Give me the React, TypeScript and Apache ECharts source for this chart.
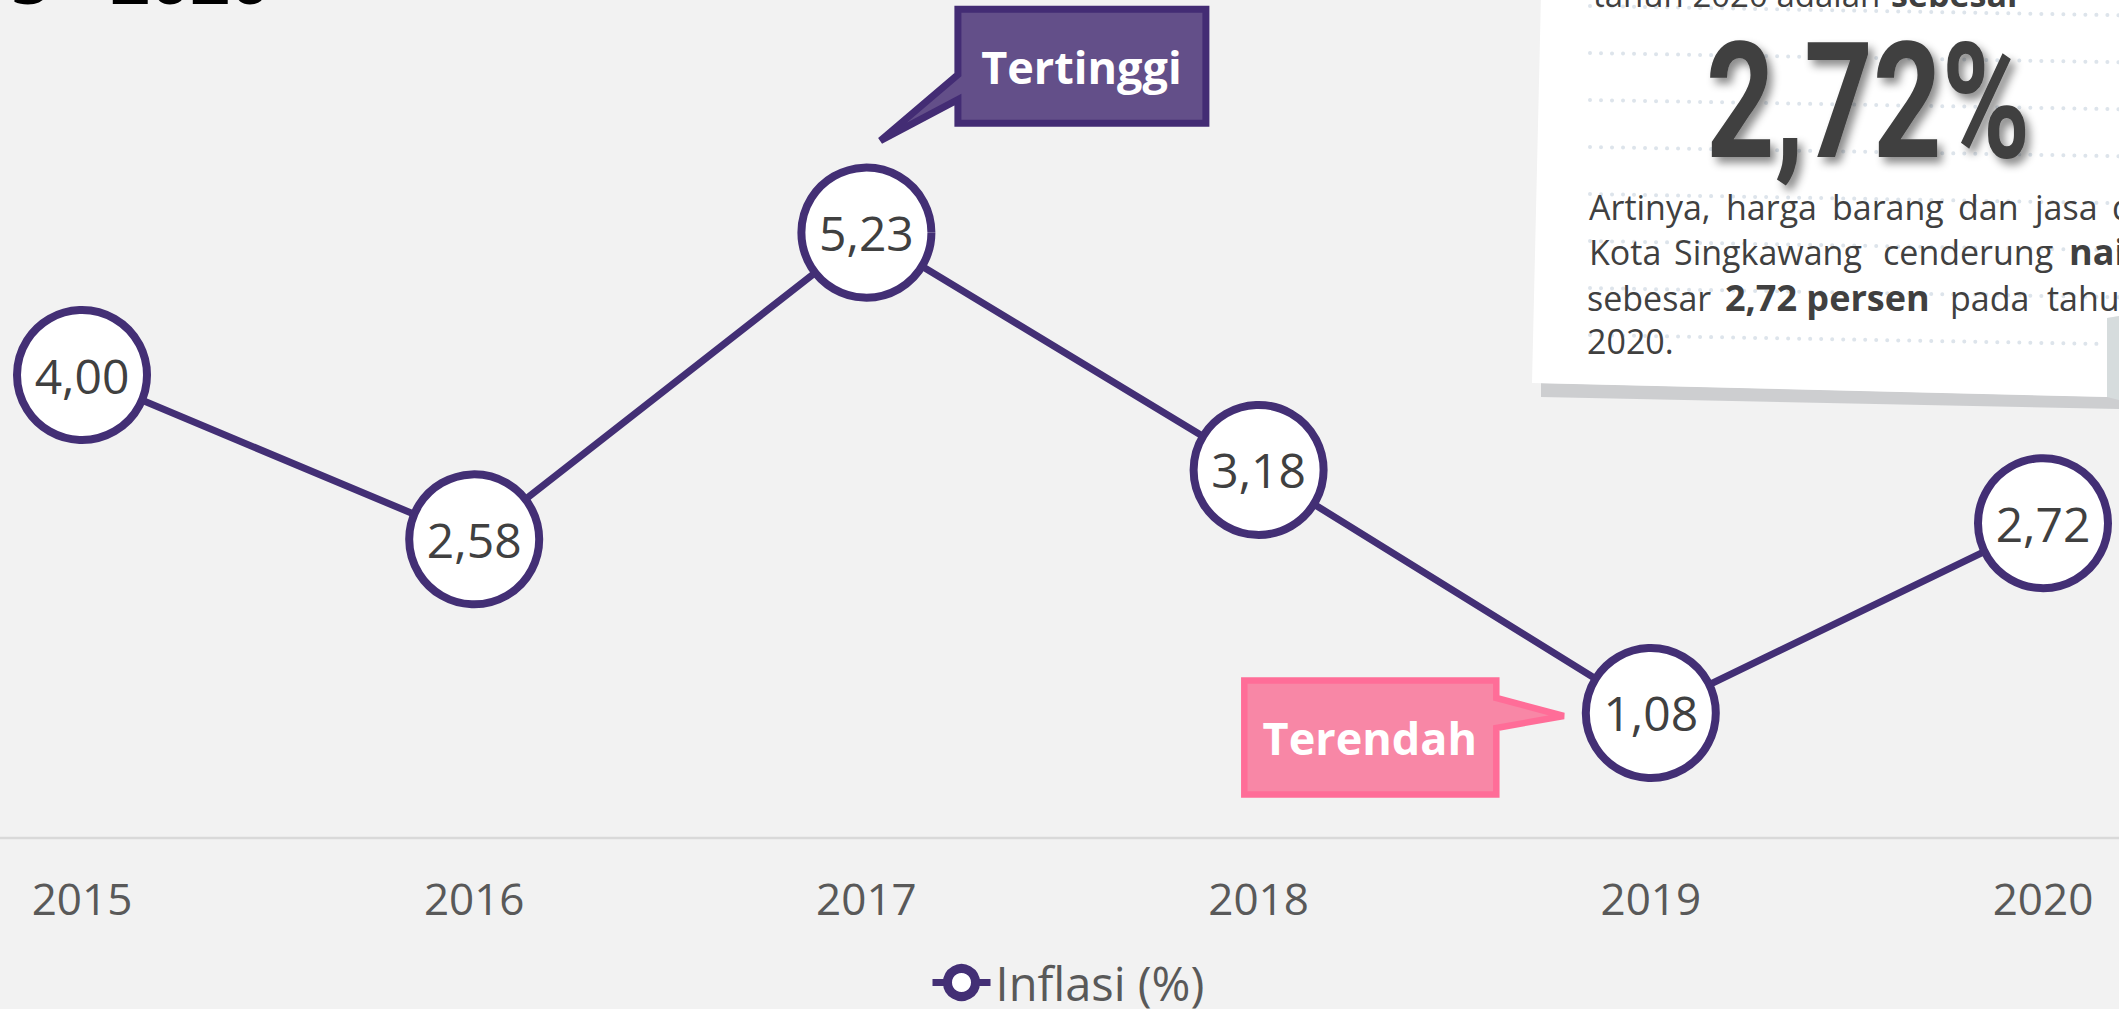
import React, { useEffect, useRef } from 'react';
import * as echarts from 'echarts';

// ---------- data ----------
const years = ['2015', '2016', '2017', '2018', '2019', '2020'];
const inflasi = [4.0, 2.58, 5.23, 3.18, 1.08, 2.72];
const seriesName = 'Inflasi (%)';
const titleText = '2015 - 2020';
const headline = '2,72%';
const topLineNormal = 'tahun 2020 adalah';
const topLineBold = 'sebesar';
const highLabel = 'Tertinggi';
const lowLabel = 'Terendah';
const paragraphLines: [string, boolean][][] = [
  [['Artinya,', false], ['harga', false], ['barang', false], ['dan', false], ['jasa', false], ['di', false]],
  [['Kota', false], ['Singkawang', false], ['cenderung', false], ['naik', true]],
  [['sebesar', false], ['2,72 persen', true], ['pada', false], ['tahun', false]],
  [['2020.', false]],
];

// ---------- layout (positions only) ----------
const wordX = [
  [1589, 1726, 1832, 1958, 2035, 2112],
  [1589, 1674, 1883, 2069],
  [1587, 1725, 1950, 2047],
  [1587],
];
const lineBaseline = [220, 265, 311, 354];

const PURPLE = '#432f75';
const TEXT = '#404040';
const fmt = (v: number) => v.toFixed(2).replace('.', ',');
const OS_MID = 0.388; // Open Sans central baseline offset (em)

export default function App() {
  const ref = useRef<HTMLDivElement>(null);
  useEffect(() => {
    const chart = echarts.init(ref.current!, null, { renderer: 'svg', width: 2119, height: 1009 });
    chart.setOption({
      animation: false,
      backgroundColor: '#f2f2f2',
      grid: { left: 82, right: 76, top: 143.5, bottom: 171 },
      xAxis: {
        type: 'category',
        data: years,
        boundaryGap: false,
        axisLine: { show: false },
        axisTick: { show: false },
        splitLine: { show: false },
        axisLabel: { color: '#595959', fontSize: 44, fontFamily: 'Open Sans', margin: 38 },
      },
      yAxis: { type: 'value', min: 0, max: 6, show: false },
      legend: {
        data: [seriesName],
        left: 929,
        top: 959,
        padding: 0,
        itemWidth: 58,
        itemHeight: 35,
        textStyle: { color: '#595959', fontSize: 47, fontFamily: 'Open Sans' },
        itemStyle: { color: '#ffffff', borderColor: PURPLE, borderWidth: 9 },
        lineStyle: { color: PURPLE, width: 7 },
      },
      series: [
        {
          name: seriesName,
          type: 'line',
          data: inflasi,
          symbol: 'circle',
          symbolSize: 130,
          lineStyle: { color: PURPLE, width: 7 },
          itemStyle: { color: '#ffffff', borderColor: PURPLE, borderWidth: 8 },
          label: {
            show: true,
            position: 'inside',
            formatter: (p: any) => fmt(p.value),
            color: TEXT,
            fontSize: 48,
            fontFamily: 'Open Sans',
          },
          z: 3,
        },
      ],
    });

    const axisY = chart.convertToPixel({ yAxisIndex: 0 }, 0) as number;
    const maxIdx = inflasi.indexOf(Math.max(...inflasi));
    const minIdx = inflasi.indexOf(Math.min(...inflasi));
    const [hx, hy] = chart.convertToPixel({ seriesIndex: 0 }, [maxIdx, inflasi[maxIdx]]) as number[];
    const [lx, ly] = chart.convertToPixel({ seriesIndex: 0 }, [minIdx, inflasi[minIdx]]) as number[];

    const g: any[] = [];
    // title (clipped at top, as in the reference)
    g.push({
      type: 'text', x: 270, y: 4 - OS_MID * 70,
      style: { text: titleText, fontFamily: 'Open Sans', fontWeight: 'bold', fontSize: 70, fill: '#000', align: 'right', verticalAlign: 'middle' },
    });
    // axis line across full width
    g.push({ type: 'line', shape: { x1: 0, y1: axisY, x2: 2119, y2: axisY }, style: { stroke: '#d9d9d9', lineWidth: 2.5 } });

    // card
    g.push({ type: 'polygon', shape: { points: [[1541, 383], [2119, 397], [2119, 409], [1541, 397]] }, style: { fill: '#cdced0' } });
    g.push({ type: 'polygon', shape: { points: [[1541, -5], [2119, -5], [2119, 316], [2107, 318], [2107, 397], [1532, 383]] }, style: { fill: '#ffffff' } });
    g.push({ type: 'polygon', shape: { points: [[2107, 318], [2119, 316], [2119, 400], [2107, 397]] }, style: { fill: '#d6dcdd' } });
    for (let k = 0; k < 8; k++) {
      const y0 = 6 + 47 * k;
      const xEnd = y0 > 300 ? 2100 : 2119;
      g.push({
        type: 'line',
        shape: { x1: 1590, y1: y0, x2: xEnd, y2: y0 + (xEnd - 1590) * 0.0175 },
        style: { stroke: '#dde4eb', lineWidth: 4, lineDash: [0.01, 11], lineCap: 'round' },
      });
    }
    // top cut line
    g.push({ type: 'text', x: 1593, y: 7 - OS_MID * 33, style: { text: topLineNormal, fontFamily: 'Open Sans', fontSize: 33, fill: TEXT, verticalAlign: 'middle' } });
    g.push({ type: 'text', x: 1891, y: 7 - OS_MID * 34, style: { text: topLineBold, fontFamily: 'Open Sans', fontWeight: 'bold', fontSize: 34, fill: TEXT, verticalAlign: 'middle' } });
    // headline
    g.push({
      type: 'text', x: 1706, y: 157, scaleX: 0.74,
      style: {
        text: headline, x: 0, y: -0.342 * 162, fontFamily: 'Roboto', fontWeight: 'bold', fontSize: 162, fill: TEXT,
        align: 'left', verticalAlign: 'middle',
        textShadowColor: 'rgba(0,0,0,0.45)', textShadowBlur: 8, textShadowOffsetX: 5, textShadowOffsetY: 6,
      },
    });
    // paragraph
    paragraphLines.forEach((line, li) => {
      line.forEach(([w, bold], wi) => {
        const fs = bold ? 36 : 34;
        g.push({
          type: 'text', x: wordX[li][wi], y: lineBaseline[li] - OS_MID * fs,
          style: { text: w, fontFamily: 'Open Sans', fontWeight: bold ? 'bold' : 'normal', fontSize: fs, fill: TEXT, verticalAlign: 'middle' },
        });
      });
    });

    // high callout
    g.push({
      type: 'polygon',
      shape: { points: [[hx + 91.5, hy - 223.5], [hx + 339.5, hy - 223.5], [hx + 339.5, hy - 109.5], [hx + 91.5, hy - 109.5], [hx + 91.5, hy - 133], [hx + 14, hy - 92], [hx + 91.5, hy - 158]] },
      style: { fill: '#634f89', stroke: '#432c74', lineWidth: 7, lineJoin: 'miter' },
    });
    g.push({
      type: 'text', x: hx + 215, y: hy - 166,
      style: { text: highLabel, fontFamily: 'Open Sans', fontWeight: 'bold', fontSize: 45, fill: '#ffffff', align: 'center', verticalAlign: 'middle' },
    });
    // low callout
    g.push({
      type: 'polygon',
      shape: { points: [[lx - 406.5, ly - 32.5], [lx - 154.5, ly - 32.5], [lx - 154.5, ly - 15], [lx - 87, ly + 3], [lx - 154.5, ly + 15], [lx - 154.5, ly + 81.5], [lx - 406.5, ly + 81.5]] },
      style: { fill: '#f887a6', stroke: '#ff6d98', lineWidth: 6.5, lineJoin: 'miter' },
    });
    g.push({
      type: 'text', x: lx - 281, y: ly + 25,
      style: { text: lowLabel, fontFamily: 'Open Sans', fontWeight: 'bold', fontSize: 45, fill: '#ffffff', align: 'center', verticalAlign: 'middle' },
    });

    chart.setOption({ graphic: g });
    return () => chart.dispose();
  }, []);
  return <div ref={ref} style={{ position: 'fixed', left: 0, top: 0, width: 2119, height: 1009 }} />;
}
